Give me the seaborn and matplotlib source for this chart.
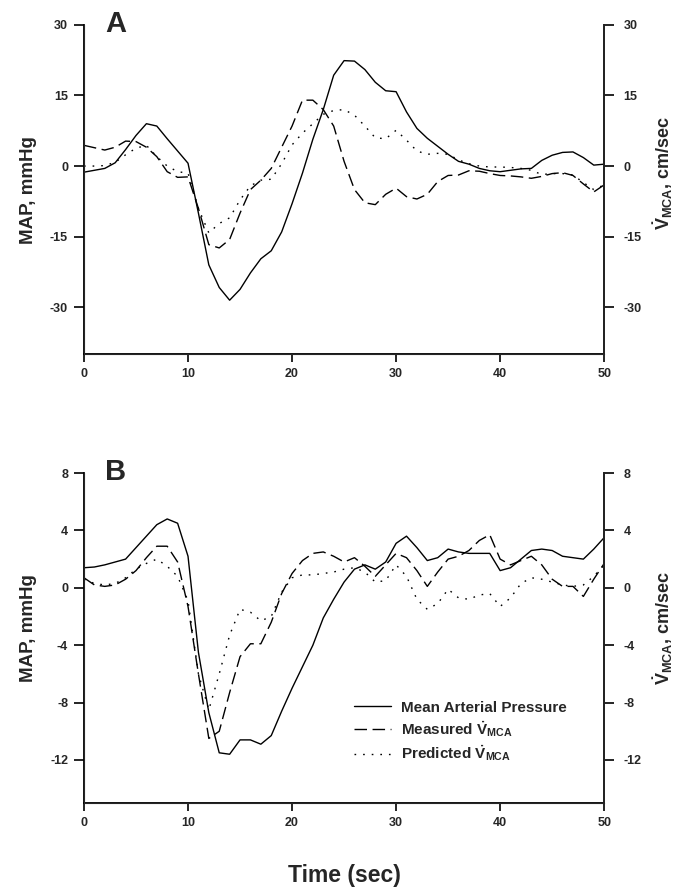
import numpy as np
import pandas as pd
import matplotlib
matplotlib.use("Agg")
import matplotlib.pyplot as plt
import seaborn as sns

# time axis (sec)
t = np.arange(0, 51)

# Panel A values
map_a = [-1.3, -0.9, -0.5, 0.7, 3.5, 6.5, 9.0, 8.5, 5.8, 3.2, 0.6,
         -10, -21, -25.8, -28.5, -26.2, -22.7, -19.7, -18, -14, -8,
         -1.5, 5.7, 12, 19.3, 22.4, 22.3, 20.5, 17.8, 16, 15.8,
         11.5, 8, 5.9, 4.2, 2.5, 1, 0.4, -0.5, -1, -1.2,
         -0.9, -0.6, -0.5, 1.2, 2.3, 2.9, 3, 1.8, 0.2, 0.4]
meas_a = [4.4, 3.9, 3.4, 4, 5.3, 5.2, 4, 2, -1.2, -2.4, -2.3,
          -9, -16.7, -17.4, -15.6, -10, -5, -3, -0.5, 4, 8.5,
          14, 14, 12, 8.5, 1, -5, -7.8, -8.2, -6, -4.7,
          -6.5, -7, -6, -3.3, -2, -1.9, -1, -1.1, -1.6, -2,
          -2.1, -2.3, -2.6, -2.2, -1.6, -1.4, -2, -3.8, -5.5, -4]
pred_a = [0, 0, 0.1, 0.8, 2.4, 3.8, 4.4, 2, 0, -1.2, -1.5,
          -9, -14.2, -12.2, -11, -7.2, -4.2, -3, -2.8, 0.5, 4.5,
          7, 9, 11, 11.8, 12, 10.8, 8.5, 6, 5.8, 7.6,
          5.5, 3.2, 2.5, 2.7, 2.5, 1.3, 0.5, 0, -0.2, -0.2,
          -0.3, -0.5, -0.9, -1.8, -1.6, -1.6, -1.9, -3.5, -5, -4]

# Panel B values
map_b = [1.4, 1.45, 1.6, 1.8, 2.0, 2.8, 3.6, 4.4, 4.8, 4.5, 2.2,
         -4.5, -8.7, -11.5, -11.6, -10.6, -10.6, -10.9, -10.3, -8.6, -7,
         -5.5, -4, -2.1, -0.8, 0.4, 1.3, 1.6, 1.3, 1.8, 3.1,
         3.6, 2.8, 1.9, 2.1, 2.7, 2.5, 2.4, 2.4, 2.4, 1.2,
         1.4, 2.0, 2.6, 2.7, 2.6, 2.2, 2.1, 2.0, 2.7, 3.5]
meas_b = [0.7, 0.2, 0.1, 0.2, 0.6, 1.2, 2.1, 2.9, 2.9, 1.8, -1.3,
          -6, -10.5, -10, -7.3, -4.8, -3.9, -3.9, -2.4, -0.4, 1.0,
          1.9, 2.4, 2.5, 2.2, 1.8, 2.1, 1.5, 0.8, 1.6, 2.4,
          2.1, 1.2, 0.1, 1.1, 2, 2.2, 2.6, 3.3, 3.7, 2.0,
          1.6, 1.9, 2.2, 1.6, 0.6, 0.1, 0.1, -0.6, 0.6, 1.7]
pred_b = [0.6, 0.3, 0.2, 0.3, 0.7, 1.3, 1.7, 2.0, 1.5, 0.8, -0.9,
          -6, -8.5, -6, -3.3, -1.5, -1.7, -2.3, -2, -0.3, 0.7,
          0.9, 0.9, 1.0, 1.1, 1.3, 1.4, 1.1, 0.4, 0.5, 1.6,
          0.8, -0.8, -1.5, -1.1, -0.1, -0.7, -0.8, -0.5, -0.4, -1.3,
          -0.7, 0.3, 0.7, 0.6, 0.4, 0.2, 0.1, 0.2, 0.8, 1.6]

series_names = ["Mean Arterial Pressure", r"Measured $\dot{V}_{MCA}$",
                r"Predicted $\dot{V}_{MCA}$"]
ticks_a = [-30, -15, 0, 15, 30]
ticks_b = [-12, -8, -4, 0, 4, 8]
xticks = [0, 10, 20, 30, 40, 50]

sns.set_style("ticks")
plt.rcParams['font.family'] = ['Liberation Sans', 'DejaVu Sans']
plt.rcParams['font.weight'] = 'bold'
plt.rcParams['axes.unicode_minus'] = False
plt.rcParams['mathtext.fontset'] = 'custom'
plt.rcParams['mathtext.rm'] = 'Liberation Sans:bold'
plt.rcParams['mathtext.it'] = 'Liberation Sans:bold'
plt.rcParams['mathtext.bf'] = 'Liberation Sans:bold'
plt.rcParams['mathtext.default'] = 'rm'

dash_map = {series_names[0]: "", series_names[1]: (9, 4), series_names[2]: (1.2, 5)}


def make_df(a, b, c):
    return pd.DataFrame({
        "time": np.concatenate([t, t, t]),
        "value": np.concatenate([a, b, c]),
        "series": np.repeat(series_names, len(t)),
    })


def style_axes(ax, ticks, ylim, letter, rlab_y, llab_y):
    ax.set_xlim(0, 50)
    ax.set_ylim(*ylim)
    ax.set_xticks(xticks)
    ax.set_yticks(ticks)
    ax.tick_params(axis='x', direction='out', length=6, width=1.2, pad=4,
                   labelsize=9, color='black')
    ax.tick_params(axis='y', direction='out', length=7, width=1.2, pad=4.5,
                   labelsize=9, color='black')
    for lab in ax.get_xticklabels() + ax.get_yticklabels():
        lab.set_fontweight('bold')
    ax.spines['top'].set_visible(False)
    for s in ['left', 'bottom', 'right']:
        ax.spines[s].set_linewidth(1.3)
        ax.spines[s].set_color('black')
    ax.set_xlabel("")
    ax.set_ylabel("MAP, mmHg", fontsize=13.5, fontweight='bold')
    ax.yaxis.set_label_coords(-0.09, llab_y)
    ax.text(0.04, 1.045, letter, transform=ax.transAxes, fontsize=21,
            fontweight='bold', va='top', ha='left')
    axr = ax.twinx()
    axr.set_ylim(*ylim)
    axr.set_yticks(ticks)
    axr.tick_params(direction='out', length=7, width=1.2, pad=7,
                    labelsize=9, color='black')
    for lab in axr.get_yticklabels():
        lab.set_fontweight('bold')
    axr.spines['top'].set_visible(False)
    axr.spines['right'].set_linewidth(1.3)
    axr.set_ylabel(r"$\dot{V}_{MCA}$, cm/sec", fontsize=13, fontweight='bold',
                   rotation=90)
    axr.yaxis.set_label_coords(1.09, rlab_y)
    return axr


fig = plt.figure(figsize=(6.8, 8.88), dpi=100)
axA = fig.add_axes([0.1235, 0.601, 0.765, 0.371])
axB = fig.add_axes([0.1235, 0.0957, 0.765, 0.3716])

sns.lineplot(data=make_df(map_a, meas_a, pred_a), x="time", y="value",
             style="series", dashes=dash_map, color="black", linewidth=1.0,
             legend=False, ax=axA)
sns.lineplot(data=make_df(map_b, meas_b, pred_b), x="time", y="value",
             style="series", dashes=dash_map, color="black", linewidth=1.0,
             legend=False, ax=axB)

style_axes(axA, ticks_a, (-40, 30), "A", 0.55, 0.5)
style_axes(axB, ticks_b, (-15, 8), "B", 0.53, 0.53)

axB.legend(handles=axB.lines[:3], labels=series_names, loc='upper left',
           bbox_to_anchor=(0.52, 0.31), frameon=False,
           handlelength=2.4, handletextpad=0.65, labelspacing=0.3,
           borderpad=0, borderaxespad=0, prop={'weight': 'bold', 'size': 11})

fig.text(344 / 680, 1 - 875 / 888, "Time (sec)", ha='center', va='center',
         fontsize=16.5, fontweight='bold')

fig.savefig("out.png", dpi=100)
